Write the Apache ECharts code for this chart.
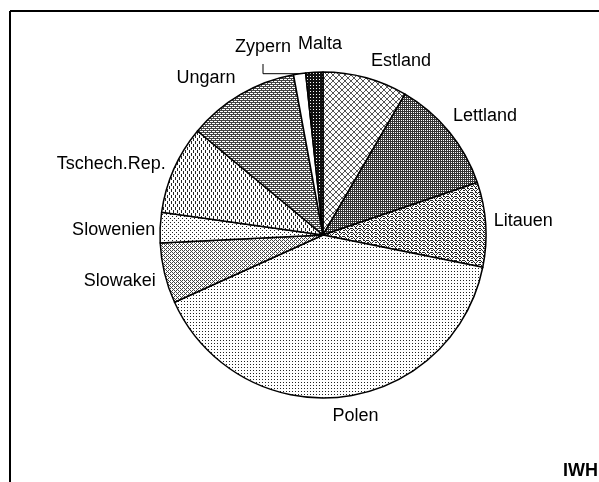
<!DOCTYPE html>
<html>
<head>
<meta charset="utf-8">
<script src="https://cdn.jsdelivr.net/npm/echarts@6/dist/echarts.min.js"></script>
<style>
  html, body { margin: 0; padding: 0; background: #fff; }
  #chart { width: 599px; height: 482px; }
</style>
</head>
<body>
<div id="chart"></div>
<script>
// Anteile der Beitrittsländer (geschätzt aus dem Kreisdiagramm, in %)
const laender = ['Estland', 'Lettland', 'Litauen', 'Polen', 'Slowakei', 'Slowenien', 'Tschech.Rep.', 'Ungarn', 'Zypern', 'Malta'];
const anteile = [8.4, 11.4, 8.4, 40.1, 6.0, 3.0, 8.8, 11.1, 1.2, 1.7];

// kleine Kacheln als Schraffur, wie im Schwarzweiß-Druck
function tile(w, h, bg, pts, fg) {
    const c = document.createElement('canvas');
    c.width = w; c.height = h;
    const g = c.getContext('2d');
    g.fillStyle = bg;
    g.fillRect(0, 0, w, h);
    g.fillStyle = fg || '#000';
    pts.forEach(p => g.fillRect(p[0], p[1], 1, 1));
    return { image: c, repeat: 'repeat' };
}

const muster = [
    // Estland: helles Rautenmuster
    tile(6, 6, '#fff', [[0,0],[1,1],[2,2],[3,3],[4,4],[5,5],[5,0],[4,1],[3,2],[2,3],[1,4],[0,5]], '#555'),
    // Lettland: graue senkrechte Streifen
    tile(2, 2, '#fff', [[0,0],[0,1],[1,1]], '#333'),
    // Litauen: Zickzack
    tile(8, 4, '#fff', [[0,0],[1,1],[2,2],[3,3],[4,2],[5,1],[6,0],[7,0],[0,2],[7,2],[3,0],[4,0]], '#222'),
    // Polen: feine Punkte
    tile(3, 3, '#fff', [[1,1]], '#222'),
    // Slowakei: schräge Punktreihen
    tile(4, 4, '#fff', [[0,0],[1,1],[2,2],[3,3],[2,0],[0,2]], '#444'),
    // Slowenien: lockere Punkte
    tile(4, 4, '#fff', [[0,0],[2,2]], '#222'),
    // Tschech. Rep.: senkrechte Striche
    tile(4, 6, '#fff', [[1,0],[1,1],[1,2],[3,3],[3,4],[3,5]], '#222'),
    // Ungarn: Karo / Ziegel
    tile(4, 4, '#fff', [[0,0],[1,0],[2,0],[3,0],[0,2],[1,2],[2,2],[3,2],[1,1],[3,3]], '#444'),
    // Zypern: weiß
    '#ffffff',
    // Malta: fast schwarz
    tile(3, 3, '#111', [[1,1]], '#fff')
];

// Feinabstimmung der Beschriftungen (Verschiebung gegenüber der Standardlage)
const labelShift = {
    'Estland': [-2, -7],
    'Lettland': [-9, -9],
    'Litauen': [-7, -3],
    'Polen': [-15, 9],
    'Slowakei': [6, 5],
    'Slowenien': [10, 3],
    'Tschech.Rep.': [6, -1],
    'Ungarn': [5, -8]
};

const data = laender.map((name, i) => ({
    name: name,
    value: anteile[i],
    itemStyle: { color: muster[i] },
    labelLine: { show: name === 'Zypern' }
}));

const chart = echarts.init(document.getElementById('chart'), null, { renderer: 'canvas' });

chart.setOption({
    animation: false,
    backgroundColor: '#fff',
    graphic: [
        { type: 'line', shape: { x1: 10, y1: 11, x2: 599, y2: 11 }, style: { stroke: '#000', lineWidth: 2 } },
        { type: 'line', shape: { x1: 10, y1: 11, x2: 10, y2: 482 }, style: { stroke: '#000', lineWidth: 2 } },
        { type: 'text', left: 563, top: 462, style: { text: 'IWH', fill: '#000', font: 'bold 18px "Liberation Sans", Arial, sans-serif' } }
    ],
    series: [{
        type: 'pie',
        center: [323, 235],
        radius: 163,
        startAngle: 90,
        clockwise: true,
        avoidLabelOverlap: false,
        emphasis: { disabled: true },
        itemStyle: { borderColor: '#000', borderWidth: 1.5 },
        label: {
            show: true,
            position: 'outside',
            color: '#000',
            fontFamily: '"Liberation Sans", Arial, sans-serif',
            fontSize: 18,
            formatter: '{b}'
        },
        labelLine: {
            length: 10,
            length2: 0,
            lineStyle: { color: '#000', width: 1 }
        },
        labelLayout: function (p) {
            const name = laender[p.dataIndex];
            if (name === 'Malta') {
                return { x: 320, y: 44, align: 'center', verticalAlign: 'middle', hideOverlap: false };
            }
            if (name === 'Zypern') {
                const p0 = p.labelLinePoints[0];
                return {
                    x: 263, y: 47, align: 'center', verticalAlign: 'middle', hideOverlap: false,
                    labelLinePoints: [p0, [263, p0[1]], [263, 64]]
                };
            }
            const s = labelShift[name] || [0, 0];
            return { dx: s[0], dy: s[1], hideOverlap: false };
        },
        data: data
    }]
});
</script>
</body>
</html>
